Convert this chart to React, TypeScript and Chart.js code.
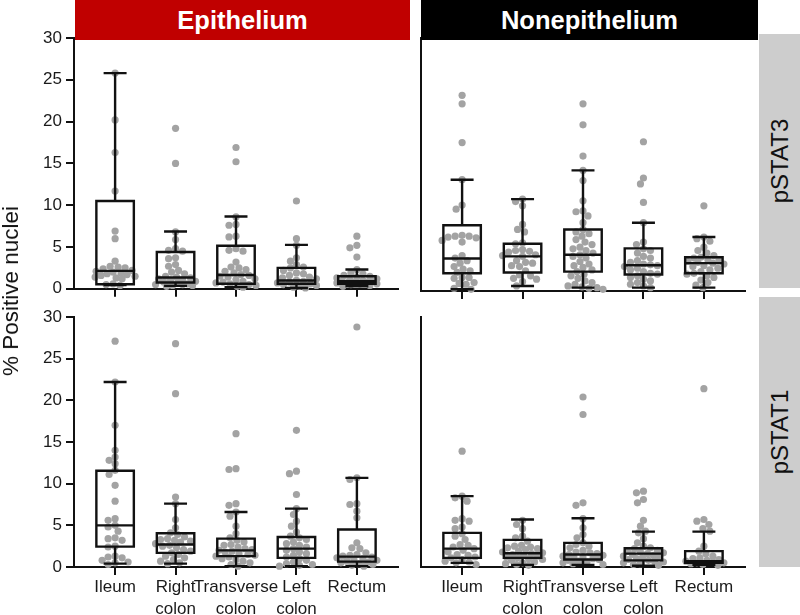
import React, { useEffect, useRef } from 'react';
import { Chart, registerables } from 'chart.js';
Chart.register(...registerables);

const categories: string[][] = [['Ileum'], ['Right', 'colon'], ['Transverse', 'colon'], ['Left', 'colon'], ['Rectum']];
const yTicks = [0, 5, 10, 15, 20, 25, 30];

// box stats: [min, q1, median, q3, max]
const epiS3Box = [
  [0.45, 0.55, 2.15, 10.5, 25.8],
  [0.35, 0.75, 1.35, 4.4, 6.85],
  [0.2, 0.6, 1.65, 5.15, 8.65],
  [0.1, 0.6, 1.0, 2.5, 5.25],
  [0.3, 0.6, 0.9, 1.5, 2.3],
];
const nonS3Box = [
  [0.2, 2.1, 3.85, 7.8, 13.2],
  [0.6, 2.2, 4.1, 5.6, 10.9],
  [0.4, 2.3, 4.3, 7.3, 14.3],
  [0.4, 1.95, 3.05, 5.05, 8.1],
  [0.4, 2.1, 3.3, 4.0, 6.4],
];
const epiS1Box = [
  [0.4, 2.45, 5.0, 11.55, 22.2],
  [0.4, 1.7, 2.7, 4.05, 7.6],
  [0.1, 1.3, 2.0, 3.4, 6.6],
  [0.1, 1.1, 2.2, 3.6, 7.0],
  [0.1, 0.65, 1.25, 4.5, 10.7],
];
const nonS1Box = [
  [0.5, 1.1, 2.2, 4.1, 8.5],
  [0.25, 1.1, 1.65, 3.25, 5.7],
  [0.25, 0.9, 1.5, 2.9, 5.85],
  [0.15, 0.8, 1.6, 2.25, 4.25],
  [0.25, 0.5, 0.7, 1.9, 4.25],
];

const epiS3Points = [
  [25.8, 20.2, 16.3, 11.7, 6.9, 6.0, 3.3, 2.7, 2.6, 2.5, 2.4, 2.2, 2.1, 2.0, 1.9, 1.8, 1.7, 1.6, 1.5, 1.4, 1.3, 1.2, 0.6, 0.5, 0.4],
  [19.2, 15.0, 6.8, 5.9, 4.8, 4.6, 4.5, 3.7, 3.6, 2.9, 2.7, 2.2, 2.0, 1.8, 1.5, 1.4, 1.3, 1.2, 1.1, 1.0, 0.9, 0.8, 0.7, 0.6, 0.5, 0.5, 0.4, 0.4, 0.3],
  [16.9, 15.2, 8.6, 7.7, 7.6, 6.3, 6.2, 4.8, 4.6, 4.5, 3.2, 2.6, 2.5, 2.3, 2.1, 1.9, 1.7, 1.6, 1.5, 1.4, 1.2, 1.1, 0.9, 0.8, 0.7, 0.6, 0.5, 0.4, 0.3, 0.2],
  [10.5, 6.0, 5.2, 3.7, 3.3, 2.9, 2.6, 2.5, 2.2, 1.9, 1.8, 1.6, 1.4, 1.3, 1.2, 1.0, 0.9, 0.8, 0.7, 0.6, 0.5, 0.4, 0.3, 0.2, 0.1],
  [6.3, 5.2, 4.9, 3.8, 2.3, 1.9, 1.8, 1.6, 1.5, 1.4, 1.3, 1.2, 1.1, 1.0, 0.9, 0.9, 0.8, 0.8, 0.7, 0.7, 0.6, 0.6, 0.5, 0.4, 0.3],
];
const nonS3Points = [
  [23.2, 22.2, 17.6, 13.2, 10.2, 9.7, 6.6, 6.5, 6.5, 6.4, 6.3, 6.0, 5.8, 4.2, 3.9, 3.6, 3.3, 2.9, 2.6, 2.4, 2.2, 1.6, 1.6, 1.5, 1.0, 0.9, 0.8, 0.3, 0.2],
  [10.9, 10.6, 10.1, 7.9, 7.3, 7.0, 5.7, 5.6, 4.9, 4.8, 4.7, 4.6, 4.3, 4.2, 4.1, 3.6, 3.4, 3.3, 3.0, 2.9, 2.4, 1.9, 1.8, 1.5, 1.4, 1.1, 0.6],
  [22.2, 19.7, 16.0, 14.3, 13.1, 10.7, 9.5, 9.4, 8.9, 8.1, 7.3, 7.0, 6.8, 6.5, 6.1, 5.8, 5.5, 5.2, 5.0, 4.8, 4.5, 4.3, 4.1, 3.9, 3.5, 3.2, 3.0, 2.8, 2.5, 2.3, 2.0, 1.8, 1.5, 1.2, 1.0, 0.8, 0.6, 0.5, 0.4, 0.3, 0.2],
  [17.7, 13.4, 12.7, 10.5, 8.1, 5.8, 5.5, 5.0, 4.8, 4.5, 4.1, 3.9, 3.6, 3.4, 3.2, 3.1, 3.0, 2.9, 2.7, 2.5, 2.3, 2.1, 2.0, 1.8, 1.6, 1.4, 1.2, 1.0, 0.8, 0.6, 0.4],
  [10.1, 6.4, 6.2, 5.9, 5.2, 4.8, 4.5, 4.2, 4.0, 3.9, 3.7, 3.6, 3.5, 3.4, 3.3, 3.2, 3.0, 2.9, 2.7, 2.5, 2.3, 2.1, 2.0, 1.8, 1.6, 1.3, 1.0, 0.7, 0.4],
];
const epiS1Points = [
  [27.1, 22.2, 17.0, 14.0, 13.2, 12.8, 12.4, 11.6, 11.1, 9.8, 7.9, 5.8, 5.6, 5.0, 4.8, 4.3, 3.5, 3.4, 3.2, 2.5, 2.4, 1.3, 1.2, 1.1, 0.8, 0.6, 0.5, 0.3],
  [26.8, 20.8, 8.4, 7.6, 5.7, 4.7, 4.1, 3.9, 3.6, 3.4, 3.3, 3.2, 3.1, 3.0, 2.8, 2.6, 2.5, 2.3, 2.1, 1.9, 1.7, 1.5, 1.3, 1.1, 0.9, 0.7, 0.5, 0.4],
  [16.0, 11.8, 11.7, 7.6, 7.4, 6.6, 6.1, 4.9, 4.0, 3.5, 3.2, 3.0, 2.7, 2.6, 2.4, 2.2, 2.1, 2.0, 1.9, 1.8, 1.6, 1.5, 1.4, 1.3, 1.2, 1.0, 0.9, 0.7, 0.5, 0.3, 0.1],
  [16.4, 11.5, 11.2, 8.7, 7.0, 6.3, 5.5, 4.9, 4.2, 3.7, 3.5, 3.3, 3.0, 2.8, 2.6, 2.4, 2.2, 2.0, 1.8, 1.6, 1.4, 1.2, 1.0, 0.8, 0.6, 0.4, 0.3, 0.2, 0.1],
  [28.8, 10.7, 10.5, 7.6, 7.5, 6.7, 5.9, 2.9, 2.3, 2.2, 1.7, 1.5, 1.4, 1.3, 1.2, 1.1, 1.0, 0.9, 0.8, 0.7, 0.6, 0.5, 0.4, 0.3, 0.2, 0.1],
];
const nonS1Points = [
  [13.9, 8.5, 8.3, 7.9, 5.8, 5.6, 5.5, 4.8, 4.6, 4.0, 3.7, 3.3, 2.7, 2.6, 2.4, 2.2, 2.0, 1.8, 1.5, 1.4, 1.2, 1.1, 0.9, 0.7, 0.6, 0.5, 0.3],
  [5.6, 5.1, 4.6, 3.7, 3.5, 3.1, 2.6, 2.5, 2.4, 2.3, 2.2, 2.1, 1.9, 1.8, 1.7, 1.6, 1.5, 1.4, 1.3, 1.2, 1.1, 1.0, 0.9, 0.8, 0.6, 0.5, 0.4, 0.3, 0.2],
  [20.4, 18.3, 7.7, 7.4, 5.8, 4.7, 3.9, 3.5, 2.9, 2.7, 2.5, 2.3, 2.0, 1.8, 1.7, 1.6, 1.5, 1.4, 1.3, 1.2, 1.1, 1.0, 0.9, 0.8, 0.7, 0.6, 0.5, 0.4, 0.3],
  [9.1, 8.9, 8.1, 7.7, 5.6, 4.9, 4.3, 4.1, 3.4, 2.9, 2.5, 2.3, 2.2, 2.0, 1.9, 1.8, 1.7, 1.6, 1.5, 1.4, 1.3, 1.2, 1.1, 1.0, 0.9, 0.8, 0.7, 0.6, 0.5, 0.4, 0.3, 0.2],
  [21.4, 5.7, 5.5, 5.1, 4.6, 4.3, 2.5, 1.9, 1.6, 1.3, 1.1, 1.0, 0.9, 0.8, 0.7, 0.6, 0.5, 0.5, 0.4, 0.3, 0.2],
];

const FONT = '"Liberation Sans", Arial, sans-serif';
const X_PX = 60.5;
const Y_PX = 8.3;

// deterministic beeswarm layout of the dots around each category
function swarm(groups: number[][]) {
  const out: { x: number; y: number }[] = [];
  groups.forEach((vals, gi) => {
    const placed: { dx: number; yp: number }[] = [];
    const sorted = [...vals].sort((a, b) => b - a);
    for (const v of sorted) {
      const yp = v * Y_PX;
      let best = 0;
      let bestScore = -1;
      for (let k = 0; k <= 40; k++) {
        const dx = (k % 2 === 0 ? 1 : -1) * Math.ceil(k / 2) * 1;
        let minD = Infinity;
        for (const p of placed) {
          const d = Math.hypot(p.dx - dx, p.yp - yp);
          if (d < minD) minD = d;
        }
        if (minD >= 6.5) { best = dx; bestScore = Infinity; break; }
        if (minD > bestScore) { bestScore = minD; best = dx; }
      }
      placed.push({ dx: best, yp });
      out.push({ x: gi + best / X_PX, y: v });
    }
  });
  return out;
}

type PanelProps = {
  points: number[][];
  boxes: number[][];
  left: number; top: number; width: number; height: number;
  padL: number; padR: number; padT: number;
  yWidth: number; xHeight: number;
  showY: boolean; showXLabels: boolean;
};

function Panel(p: PanelProps) {
  const ref = useRef<HTMLCanvasElement>(null);
  useEffect(() => {
    if (!ref.current) return;
    const boxPlugin = {
      id: 'boxes',
      afterDatasetsDraw(chart: any) {
        const ctx = chart.ctx;
        const xs = chart.scales.x;
        const ys = chart.scales.y;
        ctx.save();
        ctx.strokeStyle = '#111';
        ctx.lineWidth = 2.4;
        ctx.lineCap = 'butt';
        p.boxes.forEach((b, i) => {
          const cx = xs.getPixelForValue(i);
          const hw = xs.getPixelForValue(i + 0.31) - cx;
          const cw = xs.getPixelForValue(i + 0.19) - cx;
          const [mn, q1, md, q3, mx] = b.map((v) => ys.getPixelForValue(v));
          ctx.beginPath();
          ctx.rect(cx - hw, q3, hw * 2, q1 - q3);
          ctx.moveTo(cx - hw, md); ctx.lineTo(cx + hw, md);
          ctx.moveTo(cx, q3); ctx.lineTo(cx, mx);
          ctx.moveTo(cx - cw, mx); ctx.lineTo(cx + cw, mx);
          ctx.moveTo(cx, q1); ctx.lineTo(cx, mn);
          ctx.moveTo(cx - cw, mn); ctx.lineTo(cx + cw, mn);
          ctx.stroke();
        });
        ctx.restore();
      },
    };
    const chart = new Chart(ref.current, {
      type: 'scatter',
      data: {
        datasets: [{
          data: swarm(p.points),
          pointRadius: 3.6,
          pointBackgroundColor: '#a3a3a3',
          pointBorderWidth: 0,
          clip: false as any,
        }],
      },
      options: {
        animation: false,
        responsive: false,
        maintainAspectRatio: false,
        layout: { padding: { left: p.padL, right: p.padR, top: p.padT, bottom: 0 } },
        plugins: { legend: { display: false }, tooltip: { enabled: false } },
        scales: {
          x: {
            type: 'linear', min: -0.68, max: 4.68,
            afterBuildTicks: (s: any) => { s.ticks = categories.map((_, i) => ({ value: i })); },
            afterFit: (s: any) => { s.height = p.xHeight; },
            ticks: {
              autoSkip: false, maxRotation: 0, padding: 1, color: '#1a1a1a',
              font: { family: FONT, size: 17, lineHeight: 1.3 },
              callback: (v: any) => (p.showXLabels ? categories[Math.round(v)] : ''),
            },
            grid: { display: true, drawOnChartArea: false, drawTicks: true, tickLength: 8, color: '#111', lineWidth: 2 },
            border: { display: true, color: '#111', width: 2 },
          },
          y: {
            type: 'linear', min: 0, max: 30,
            afterBuildTicks: (s: any) => { s.ticks = yTicks.map((v) => ({ value: v })); },
            afterFit: (s: any) => { s.width = p.yWidth; },
            ticks: { display: p.showY, padding: 4, color: '#1a1a1a', font: { family: FONT, size: 17 } },
            grid: { display: p.showY, drawOnChartArea: false, drawTicks: true, tickLength: 8, color: '#111', lineWidth: 2 },
            border: { display: true, color: '#111', width: 2 },
          },
        },
      } as any,
      plugins: [boxPlugin],
    });
    return () => chart.destroy();
  }, []);
  return (
    <canvas
      ref={ref}
      width={p.width}
      height={p.height}
      style={{ position: 'absolute', left: p.left, top: p.top, width: p.width, height: p.height }}
    />
  );
}

const headerStyle = (left: number, width: number, bg: string): React.CSSProperties => ({
  position: 'absolute', left, top: 0, width, height: 40, background: bg, color: '#fff',
  fontFamily: FONT, fontWeight: 'bold', fontSize: 25.5, lineHeight: '40px', textAlign: 'center', zIndex: 2,
});

const stripStyle = (top: number, height: number): React.CSSProperties => ({
  position: 'absolute', left: 759, top, width: 41, height, background: '#cdcdcd', zIndex: 2,
});

const stripText: React.CSSProperties = {
  position: 'absolute', left: '50%', top: '50%', transform: 'translate(-50%, -50%) rotate(-90deg)',
  fontFamily: FONT, fontSize: 24, color: '#111', whiteSpace: 'nowrap',
};

export default function App() {
  return (
    <div style={{ position: 'absolute', left: 0, top: 0, width: 800, height: 615, background: '#fff', overflow: 'hidden' }}>
      <Panel points={epiS3Points} boxes={epiS3Box} left={0} top={20} width={410} height={283}
        padL={0} padR={12} padT={18} yWidth={74} xHeight={12} showY={true} showXLabels={false} />
      <Panel points={nonS3Points} boxes={nonS3Box} left={410} top={20} width={350} height={283}
        padL={11} padR={15} padT={18} yWidth={0} xHeight={12} showY={false} showXLabels={false} />
      <Panel points={epiS1Points} boxes={epiS1Box} left={0} top={300} width={410} height={315}
        padL={0} padR={12} padT={17} yWidth={74} xHeight={48} showY={true} showXLabels={true} />
      <Panel points={nonS1Points} boxes={nonS1Box} left={410} top={300} width={350} height={315}
        padL={11} padR={15} padT={17} yWidth={0} xHeight={48} showY={false} showXLabels={true} />

      <div style={headerStyle(75, 335, '#c00000')}>Epithelium</div>
      <div style={headerStyle(421, 337, '#000000')}>Nonepithelium</div>

      <div style={stripStyle(34, 254)}><div style={stripText}>pSTAT3</div></div>
      <div style={stripStyle(297, 270)}><div style={stripText}>pSTAT1</div></div>

      <div style={{
        position: 'absolute', left: 11, top: 291, transform: 'translate(-50%, -50%) rotate(-90deg)',
        fontFamily: FONT, fontSize: 22.5, color: '#111', whiteSpace: 'nowrap', zIndex: 2,
      }}>% Positive nuclei</div>
    </div>
  );
}
